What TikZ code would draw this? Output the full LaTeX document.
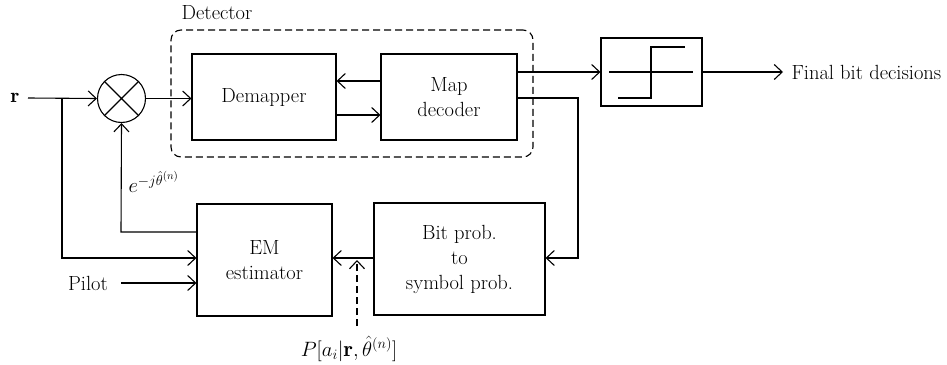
\documentclass[tikz,border=0pt]{standalone}
\usepackage{fontspec}
\usetikzlibrary{arrows.meta}
\begin{document}
\begin{tikzpicture}[x=1pt,y=-1pt,
  line width=1.1pt,
  font=\fontsize{20.5}{25}\selectfont,
  tip/.style={-{Straight Barb[length=8pt,width=15pt,line width=1.1pt]}},
  blk/.style={draw,rectangle,inner sep=0pt,align=center},
  lbl/.style={inner sep=0pt},
  mlbl/.style={inner sep=0pt,font=\fontsize{22}{26}\selectfont}]
\useasboundingbox (0,0) rectangle (947,364);
% detector frame
\node[draw,dash pattern=on 7pt off 4pt,rounded corners=10pt,minimum width=362pt,minimum height=127pt,inner sep=0pt] (det) at (352,93.5) {};
\node[lbl] (detl) at (217,13) {Detector};
% blocks
\node[blk,minimum width=144pt,minimum height=86pt] (dem) at (264,97) {Demapper};
\node[blk,minimum width=136pt,minimum height=86pt] (map) at (449,97) {Map\\decoder};
\node[blk,minimum width=101pt,minimum height=68pt] (dec) at (651.5,72) {};
\node[blk,minimum width=135pt,minimum height=112pt] (em) at (264.5,260) {EM\\estimator};
\node[blk,minimum width=171pt,minimum height=112pt] (bp) at (459.5,259) {Bit prob.\\to\\symbol prob.};
\node[draw,circle,minimum size=48pt,inner sep=0pt] (mul) at (121.5,98.5) {};
\draw (mul.north west) -- (mul.south east) (mul.north east) -- (mul.south west);
% labels
\node[lbl] (r) at (15,98) {$\mathbf{r}$};
\node[lbl,anchor=west] (fin) at (791,72) {Final bit decisions};
\node[lbl] (pil) at (88,283) {Pilot};
\node[mlbl,anchor=west] (eth) at (128,182) {$e^{-j\hat{\theta}^{(n)}}$};
\node[mlbl] (pl) at (349,349) {$P[a_i|\mathbf{r},\hat{\theta}^{(n)}]$};
% step symbol
\coordinate (s1) at (609,72);
\coordinate (s2) at (693,72);
\draw (s1) -- (s2);
\draw (618,98) -- (651,98) -- (651,47) -- (685,47);
% coordinates
\coordinate (rin) at (28,98);
\coordinate (br) at (62,98);
\coordinate (brd) at (62,258);
\coordinate (ecor) at (121,232);
\coordinate (pin) at (121,283);
\coordinate (fb1) at (578,98);
\coordinate (fb2) at (578,258);
\coordinate (pend) at (357,326);
\coordinate (ptip) at (357,260);
\coordinate (fout) at (783,72);
% connectors
\draw[tip] (rin) -- (mul.west);
\draw[tip] (br) -- (brd) -- (em.west |- brd);
\draw[tip] (mul.east) -- (dem.west |- mul.east);
\draw[tip] (map.west |- 0,81) -- (dem.east |- 0,81);
\draw[tip] (dem.east |- 0,115) -- (map.west |- 0,115);
\draw[tip] (map.east |- 0,72) -- (dec.west);
\draw[tip] (dec.east) -- (fout);
\draw[tip] (map.east |- fb1) -- (fb1) -- (fb2) -- (bp.east |- fb2);
\draw[tip] (bp.west |- 0,258) -- (em.east |- 0,258);
\draw[tip] (em.west |- ecor) -- (ecor) -- (mul.south);
\draw[tip] (pin) -- (em.west |- pin);
\draw[tip,dash pattern=on 7pt off 4pt] (pend) -- (ptip);
\end{tikzpicture}
\end{document}
